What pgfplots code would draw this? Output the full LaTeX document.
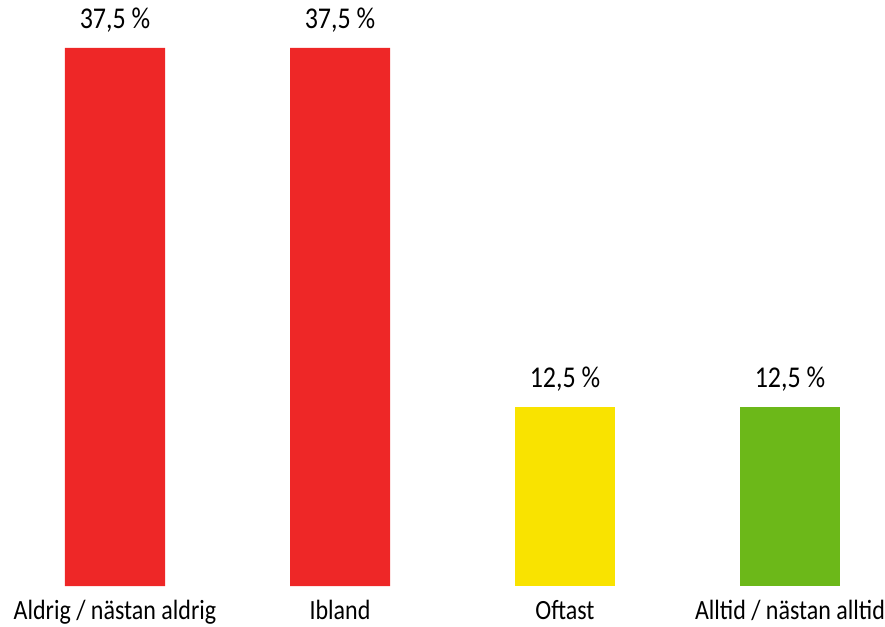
\documentclass[border=0pt]{standalone}
\usepackage{graphicx}
\usepackage{pgfplots}
\pgfplotsset{compat=1.18}
\usepackage{fontspec}
\setmainfont{Carlito}
\definecolor{cred}{HTML}{EE2727}
\definecolor{cyellow}{HTML}{F9E300}
\definecolor{cgreen}{HTML}{6CB819}
\begin{document}
\begin{tikzpicture}[x=1pt,y=1pt]
\path[use as bounding box] (0,0) rectangle (885,626);
\begin{axis}[
  at={(0pt,40pt)}, anchor=south west,
  scale only axis,
  width=885pt, height=573.9pt,
  xmin=-0.5111, xmax=3.4222,
  ymin=0, ymax=40,
  axis lines=none,
  xtick=\empty, ytick=\empty,
  clip=false,
  bar width=100pt,
  /pgf/number format/assume math mode=true,
  nodes near coords={\scalebox{1}[1.16]{\pgfmathprintnumber[fixed,fixed zerofill,precision=1,use comma,assume math mode=true]{\pgfplotspointmeta}~\%}},
  every node near coord/.append style={font=\fontsize{26}{30}\selectfont, text=black, anchor=base, yshift=19pt},
]
\addplot[ybar, fill=cred, draw=none] coordinates {(0,37.5) (1,37.5)};
\addplot[ybar, fill=cyellow, draw=none] coordinates {(2,12.5)};
\addplot[ybar, fill=cgreen, draw=none] coordinates {(3,12.5)};
\foreach \i/\l in {0/{Aldrig / nästan aldrig},1/{Ibland},2/{Oftast},3/{Alltid / nästan alltid}} {
  \edef\temp{\noexpand\node[font=\noexpand\fontsize{24}{28}\noexpand\selectfont, anchor=base] at (axis cs:\i,0) [yshift=-33.5pt] {\noexpand\scalebox{1}[1.16]{\l}};}
  \temp
}
\end{axis}
\end{tikzpicture}
\end{document}
